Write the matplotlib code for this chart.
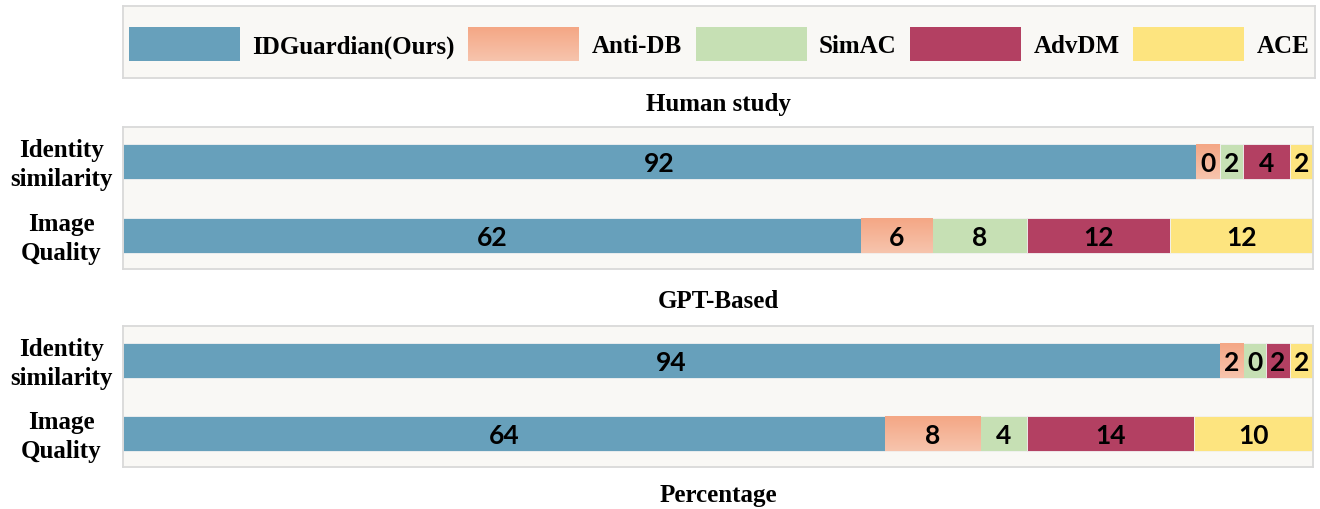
import numpy as np
import matplotlib
matplotlib.use("Agg")
import matplotlib.pyplot as plt
from matplotlib.patches import Patch
from matplotlib.colors import LinearSegmentedColormap
from matplotlib.transforms import blended_transform_factory

# ---- data -------------------------------------------------------------
methods = ["IDGuardian(Ours)", "Anti-DB", "SimAC", "AdvDM", "ACE"]
criteria = ["Identity\nsimilarity", "Image\nQuality"]
panel_titles = ["Human study", "GPT-Based"]
axis_title = "Percentage"

human_identity = [92, 0, 2, 4, 2]
human_quality = [62, 6, 8, 12, 12]
gpt_identity = [94, 2, 0, 2, 2]
gpt_quality = [64, 8, 4, 14, 10]

# ---- style ------------------------------------------------------------
colors = ["#67a0bb", "#f6b497", "#c6e0b4", "#b34062", "#fde47f"]
gradient_top, gradient_bottom = "#f4a785", "#f7c4ad"
panel_bg = "#f9f8f5"
frame_color = "#d9d9d9"
MIN_VISIBLE = 2          # zero-vote segments keep a sliver so the label fits
BAR_H = 35 / 74          # bar thickness relative to row spacing
SERIF_SIZE = 18

plt.rcParams["font.family"] = ["Liberation Serif", "DejaVu Serif"]
serif_bold = dict(fontfamily=["Liberation Serif"], fontweight="bold", fontsize=SERIF_SIZE)
num_font = dict(fontfamily=["Lato", "DejaVu Sans"], fontweight="bold", fontsize=19)

W, H = 1320, 510
fig = plt.figure(figsize=(W / 100, H / 100), dpi=100)
fig.patch.set_facecolor("white")

grad_cmap = LinearSegmentedColormap.from_list("antidb", [gradient_top, gradient_bottom])
grad = np.linspace(0, 1, 64)[:, None]


def fig_rect(x0, y0, x1, y1):
    """Pixel box (top-left origin) -> figure fraction rect."""
    return [x0 / W, 1 - y1 / H, (x1 - x0) / W, (y1 - y0) / H]


def style_frame(ax):
    ax.set_facecolor(panel_bg)
    ax.set_xticks([])
    ax.set_yticks([])
    for s in ax.spines.values():
        s.set_color(frame_color)
        s.set_linewidth(1.3)


def draw_panel(ax, rows):
    style_frame(ax)
    label_tf = blended_transform_factory(ax.transAxes, ax.transData)
    for r, vals in enumerate(rows):
        shown = np.maximum(np.asarray(vals, dtype=float), MIN_VISIBLE)
        shown = shown / shown.sum() * 100
        lefts = np.concatenate([[0], np.cumsum(shown)[:-1]])
        for k, (v, w, l) in enumerate(zip(vals, shown, lefts)):
            bar = ax.barh(r, w, left=l, height=BAR_H, color=colors[k],
                          edgecolor="#f2f2f2", linewidth=0.6, zorder=2)[0]
            if k == 1:
                im = ax.imshow(grad, cmap=grad_cmap, aspect="auto",
                               interpolation="bilinear", zorder=2.5,
                               extent=(l, l + w, r + BAR_H / 2, r - BAR_H / 2))
                im.set_clip_path(bar)
            ax.text(l + w / 2, r + 0.02, str(v), ha="center", va="center",
                    color="black", zorder=4, **num_font)
        ax.text(-62 / 1190, r + 0.035, criteria[r], transform=label_tf, ha="center",
                va="center", linespacing=1.33, **serif_bold)
    ax.set_xlim(0, 100)
    ax.set_ylim(1 + 33.5 / 74, -34.5 / 74)


# ---- panels -----------------------------------------------------------
ax_h = fig.add_axes(fig_rect(123, 128, 1313, 270))
draw_panel(ax_h, [human_identity, human_quality])
ax_g = fig.add_axes(fig_rect(123, 327, 1313, 468))
draw_panel(ax_g, [gpt_identity, gpt_quality])

fig.text(718 / W, 1 - 105 / H, panel_titles[0], ha="center", va="center", **serif_bold)
fig.text(718 / W, 1 - 302 / H, panel_titles[1], ha="center", va="center", **serif_bold)
fig.text(718 / W, 1 - 496 / H, axis_title, ha="center", va="center", **serif_bold)

# ---- legend -----------------------------------------------------------
ax_leg = fig.add_axes(fig_rect(123, 7, 1315, 79))
style_frame(ax_leg)
handles = [Patch(facecolor=c, edgecolor="none") for c in colors]
fs_px = SERIF_SIZE * 100 / 72
# legend patch height = fontsize * (0.65 * handleheight + 0.245)
patch_h = 34 / fs_px
leg = ax_leg.legend(handles, methods, ncol=5, loc="center", frameon=False,
                    prop=dict(family="Liberation Serif", weight="bold", size=SERIF_SIZE),
                    handlelength=111 / fs_px, handleheight=(patch_h - 0.245) / 0.65,
                    handletextpad=12 / fs_px, columnspacing=14 / fs_px,
                    borderaxespad=0, borderpad=0,
                    bbox_to_anchor=(0.5, 0.47))

fig.canvas.draw()
bb = leg.legend_handles[1].get_window_extent(fig.canvas.get_renderer())
ax_grad = fig.add_axes([bb.x0 / W, bb.y0 / H, bb.width / W, bb.height / H])
ax_grad.imshow(grad, cmap=grad_cmap, aspect="auto", interpolation="bilinear")
ax_grad.axis("off")

fig.savefig("out.png", dpi=100, facecolor="white")
